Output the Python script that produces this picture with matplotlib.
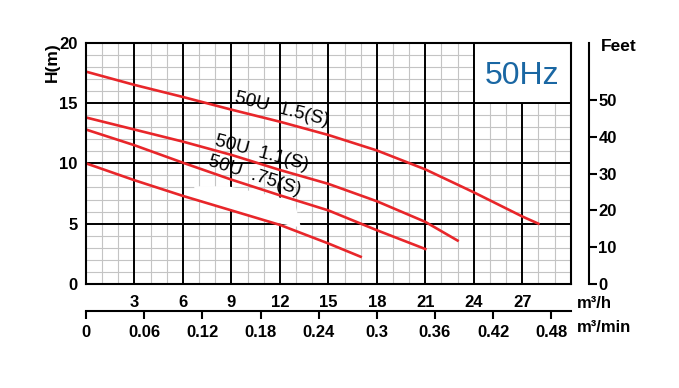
import numpy as np
import matplotlib
matplotlib.use('Agg')
import matplotlib.pyplot as plt
from matplotlib import font_manager
from matplotlib.patches import Rectangle

# font: narrow Arial look if we have it
names = {f.name for f in font_manager.fontManager.ttflist}
narrow = 'Liberation Sans Narrow' if 'Liberation Sans Narrow' in names else 'Liberation Sans'
plt.rcParams['font.family'] = ['Liberation Sans', 'DejaVu Sans']

# pump curves, flow in m3/h, head in m
q_15 = [0, 3, 6, 9, 12, 15, 18, 21, 24, 27, 28]
h_15 = [17.6, 16.5, 15.5, 14.45, 13.45, 12.35, 11.07, 9.5, 7.6, 5.6, 5.0]
q_11 = [0, 3, 6, 9, 12, 15, 18, 21, 23]
h_11 = [13.8, 12.8, 11.8, 10.7, 9.45, 8.3, 6.86, 5.15, 3.6]
q_075 = [0, 3, 6, 9, 12, 15, 18, 21]
h_075 = [12.8, 11.5, 10.05, 8.65, 7.35, 6.1, 4.46, 2.9]
q_05 = [0, 3, 6, 9, 12, 15, 17]
h_05 = [10.0, 8.6, 7.3, 6.1, 4.9, 3.36, 2.26]

labels = ['50U  1.5(S)', '50U  1.1(S)', '50U  .75(S)']
label_pos = [(12.1, 14.45), (10.9, 10.85), (10.4, 9.0)]
label_rot = [-14, -15, -18]

x_ticks = [3, 6, 9, 12, 15, 18, 21, 24, 27]
y_ticks = [0, 5, 10, 15, 20]
feet_ticks = [0, 10, 20, 30, 40, 50]
min_ticks = [0, 0.06, 0.12, 0.18, 0.24, 0.3, 0.36, 0.42, 0.48]

# white patch where the original picture was cleaned up
patch_q = [6.7, 8.8, 12.9, 13.3, 11.6, 6.7]
patch_h = [8.1, 8.1, 6.9, 4.7, 5.1, 7.1]

red = '#e8262a'
bold = dict(fontweight='bold')

fig = plt.figure(figsize=(6.79, 3.88), dpi=100)
ax = fig.add_axes([0.1267, 0.268, 0.7138, 0.622])
ax.set_xlim(0, 30)
ax.set_ylim(0, 20)

# grid
for v in range(1, 30):
    if v % 3:
        ax.axvline(v, color='#c4c4c4', lw=0.8, zorder=1)
for v in range(1, 20):
    if v % 5:
        ax.axhline(v, color='#c4c4c4', lw=0.8, zorder=1)
for v in range(3, 30, 3):
    ax.axvline(v, color='black', lw=1.4, zorder=2)
for v in range(5, 20, 5):
    ax.axhline(v, color='black', lw=1.4, zorder=2)

ax.add_patch(Rectangle((24, 15), 6, 5, facecolor='white', edgecolor='black', lw=1.4, zorder=3))
ax.fill(patch_q, patch_h, color='white', lw=0, zorder=3)
ax.text(27, 17.25, '50Hz', color='#1a67a3', fontsize=23, ha='center', va='center',
        family=[narrow, 'DejaVu Sans'], zorder=4)

for q, h in [(q_15, h_15), (q_11, h_11), (q_075, h_075), (q_05, h_05)]:
    ax.plot(q, h, color=red, lw=1.9, zorder=5)

for txt, (x, y), r in zip(labels, label_pos, label_rot):
    ax.text(x, y, txt, fontsize=13.5, rotation=r, ha='center', va='center',
            rotation_mode='anchor', family=[narrow, 'DejaVu Sans'], zorder=6)

for s in ax.spines.values():
    s.set_linewidth(1.5)
    s.set_zorder(7)

ax.set_xticks(x_ticks)
ax.set_yticks(y_ticks)
ax.tick_params(length=0, labelsize=12, pad=6)
ax.tick_params(axis='x', pad=8)
for t in ax.get_xticklabels() + ax.get_yticklabels():
    t.set_fontweight('bold')
ax.text(-0.07, 0.92, 'H(m)', transform=ax.transAxes, rotation=90, fontsize=12.5,
        ha='center', va='center', **bold)

# feet axis
ax2 = ax.twinx()
ax2.set_ylim(0, 20 / 0.3048)
ax2.set_yticks(feet_ticks)
for k in ['top', 'bottom', 'left']:
    ax2.spines[k].set_visible(False)
ax2.spines['right'].set_position(('outward', 13))
ax2.spines['right'].set_linewidth(1.5)
ax2.tick_params(axis='y', length=6, width=1.5, labelsize=12, pad=1)
for t in ax2.get_yticklabels():
    t.set_fontweight('bold')
ax2.text(1.063, 0.985, 'Feet', transform=ax.transAxes, fontsize=12.5,
         ha='left', va='center', **bold)

# m3/min axis
sec = ax.secondary_xaxis(-0.113, functions=(lambda x: x / 60, lambda x: x * 60))
sec.set_xticks(min_ticks)
sec.set_xticklabels(['0' if t == 0 else f'{t:g}' for t in min_ticks], fontweight='bold')
sec.spines['bottom'].set_linewidth(1.5)
sec.tick_params(length=6, width=1.5, labelsize=12, pad=4)
sec.set_xticks([0], minor=True)
sec.tick_params(which='minor', direction='in', length=6, width=1.5)

ax.text(1.013, -0.08, 'm³/h', transform=ax.transAxes, fontsize=12, ha='left', va='center', **bold)
ax.text(1.013, -0.18, 'm³/min', transform=ax.transAxes, fontsize=12, ha='left', va='center', **bold)

fig.savefig('out.png', dpi=100)
